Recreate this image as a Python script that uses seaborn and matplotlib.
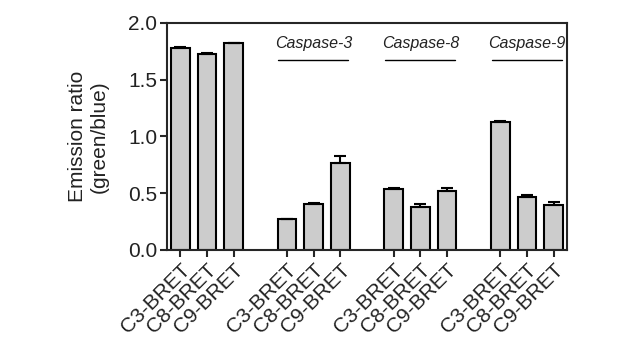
import matplotlib
matplotlib.use("Agg")
import matplotlib.pyplot as plt
import seaborn as sns
import pandas as pd
import numpy as np

groups = ["Control", "Caspase-3", "Caspase-8", "Caspase-9"]
probes = ["C3-BRET", "C8-BRET", "C9-BRET"]
control_vals = [1.78, 1.725, 1.82]
casp3_vals = [0.27, 0.405, 0.77]
casp8_vals = [0.537, 0.38, 0.52]
casp9_vals = [1.125, 0.47, 0.40]
control_err = [0.01, 0.01, 0.005]
casp3_err = [0.005, 0.012, 0.055]
casp8_err = [0.012, 0.028, 0.022]
casp9_err = [0.014, 0.018, 0.025]

values = [control_vals, casp3_vals, casp8_vals, casp9_vals]
errors = [control_err, casp3_err, casp8_err, casp9_err]

rows = []
for gi, g in enumerate(groups):
    for pi, p in enumerate(probes):
        rows.append(dict(group=g, probe=p, pos=gi * 4 + pi,
                         value=values[gi][pi], err=errors[gi][pi]))
df = pd.DataFrame(rows)

sns.set_style("ticks")
plt.rcParams['font.family'] = ['Liberation Sans', 'DejaVu Sans']
txt = "#222222"

fig = plt.figure(figsize=(6.22, 3.45), dpi=100)
ax = fig.add_axes([0.2685, 0.2754, 0.643, 0.658])

sns.barplot(data=df, x="pos", y="value", native_scale=True, width=0.7,
            color="#cccccc", edgecolor="black", linewidth=1.5,
            errorbar=None, ax=ax, saturation=1)
ax.errorbar(df["pos"], df["value"], yerr=[np.zeros(len(df)), df["err"]],
            fmt="none", ecolor="black", elinewidth=1.5, capsize=4, capthick=1.5)

ax.set_xlim(-0.5, 14.5)
ax.set_ylim(0, 2.0)
ax.set_yticks([0, 0.5, 1.0, 1.5, 2.0])
ax.set_yticklabels(["0.0", "0.5", "1.0", "1.5", "2.0"], fontsize=15, color=txt)
ax.set_xticks(df["pos"])
ax.set_xticklabels(df["probe"], rotation=45, ha="right", rotation_mode="anchor",
                   fontsize=15, color=txt)
ax.set_xlabel("")
ax.set_ylabel("Emission ratio\n(green/blue)", fontsize=15, linespacing=1.15,
              labelpad=14, color=txt)
for s in ax.spines.values():
    s.set_linewidth(1.5)
    s.set_visible(True)
ax.tick_params(axis="both", direction="out", length=5, width=1.5, pad=2)

for gi, g in enumerate(groups[1:], start=1):
    start = gi * 4
    ax.text(start + 1, 1.82, g, ha="center", va="center", style="italic",
            fontsize=11.5, color=txt)
    ax.plot([start - 0.32, start + 2.3], [1.67, 1.67], color="black", lw=1.0)

fig.savefig("out.png", dpi=100)
